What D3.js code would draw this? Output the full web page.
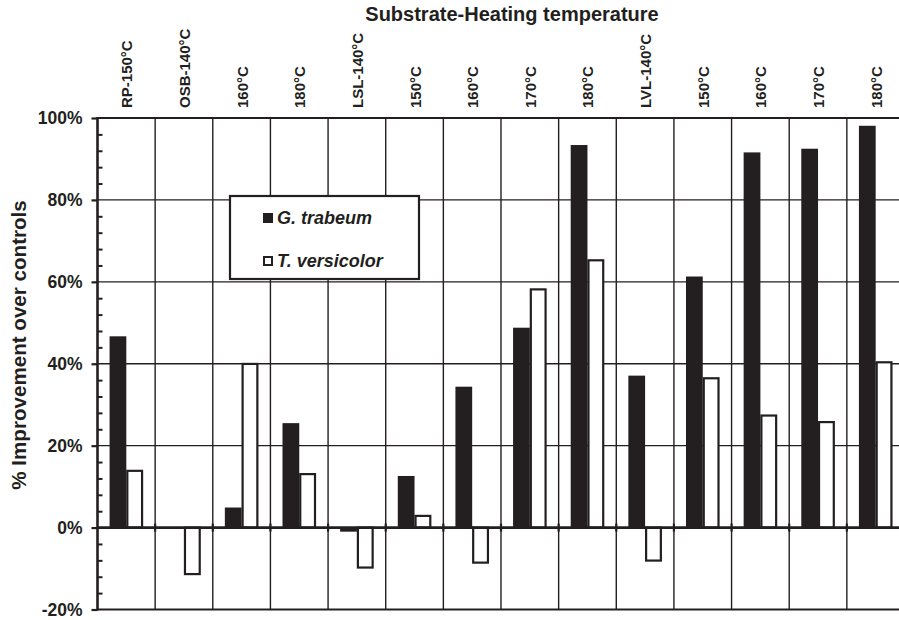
<!DOCTYPE html>
<html>
<head>
<meta charset="utf-8">
<script src="https://cdn.jsdelivr.net/npm/d3@7"></script>
<style>
  body { margin: 0; background: #fff; }
  text { font-family: Arial, "Liberation Sans", sans-serif; font-weight: bold; fill: #231f20; }
</style>
</head>
<body>
<svg id="chart" width="899" height="620"></svg>
<script>
// categories along the top (duplicate temps, so bars are keyed by index)
const categories = ["RP-150°C", "OSB-140°C", "160°C", "180°C", "LSL-140°C", "150°C", "160°C",
                    "170°C", "180°C", "LVL-140°C", "150°C", "160°C", "170°C", "180°C"];
const series = ["G. trabeum", "T. versicolor"];
// % improvement over controls
const gTrabeum    = [46.7, -0.3, 4.9, 25.5, -1.0, 12.6, 34.4, 48.8, 93.4, 37.1, 61.3, 91.6, 92.5, 98.1];
const tVersicolor = [14.1, -11.6, 40.2, 13.3, -10.0, 3.1, -8.8, 58.4, 65.5, -8.3, 36.7, 27.6, 26.0, 40.6];
const yTicks = [-20, 0, 20, 40, 60, 80, 100];
const yMinorTicks = [-16, -12, -8, -4, 4, 8, 12, 16, 24, 28, 32, 36, 44, 48, 52, 56, 64, 68, 72, 76, 84, 88, 92, 96];

const ink = "#231f20";

let svg = d3.select("#chart"),
    margin = {top: 118, left: 97.5},
    width = 807,
    height = 491.5,
    g = svg.append("g").attr("transform", "translate(" + margin.left + "," + margin.top + ")");

let x0 = d3.scaleBand()
    .domain(d3.range(categories.length))
    .range([0, width])
    .padding(0);

let x1 = d3.scaleBand()
    .domain(series)
    .range([0, x0.bandwidth()])
    .paddingInner(0)
    .paddingOuter(0.72);

let y = d3.scaleLinear()
    .domain([-20, 100])
    .range([height, 0]);

// horizontal grid
g.append("g")
    .selectAll("line")
    .data(yTicks.filter(d => d !== 0))
    .enter().append("line")
    .attr("x1", 0)
    .attr("x2", width)
    .attr("y1", d => y(d))
    .attr("y2", d => y(d))
    .attr("stroke", ink)
    .attr("stroke-width", d => (d === -20 || d === 100) ? 2.2 : 1.4);

// vertical grid at category boundaries
g.append("g")
    .selectAll("line")
    .data(d3.range(1, categories.length))
    .enter().append("line")
    .attr("x1", d => x0(d))
    .attr("x2", d => x0(d))
    .attr("y1", y(100))
    .attr("y2", y(-20))
    .attr("stroke", ink)
    .attr("stroke-width", 1.4);

// bars
let rows = categories.map((c, i) => ({i: i, values: [
    {key: series[0], value: gTrabeum[i]},
    {key: series[1], value: tVersicolor[i]}
]}));

let groups = g.append("g")
    .selectAll("g")
    .data(rows)
    .enter().append("g")
    .attr("transform", d => "translate(" + x0(d.i) + ",0)");

// white bars are inset by half the stroke so their outer edge sits on the value
groups.selectAll("rect")
    .data(d => d.values)
    .enter().append("rect")
    .attr("x", d => x1(d.key) + (d.key === series[1] ? 1 : 0))
    .attr("y", d => Math.min(y(d.value), y(0)) + (d.key === series[1] && d.value >= 0 ? 1 : 0))
    .attr("width", d => x1.bandwidth() - (d.key === series[1] ? 2 : 0))
    .attr("height", d => Math.abs(y(d.value) - y(0)) - (d.key === series[1] ? 1 : 0))
    .attr("fill", d => d.key === series[0] ? ink : "#fff")
    .attr("stroke", d => d.key === series[1] ? ink : "none")
    .attr("stroke-width", 2.2);

// zero line with boundary ticks
g.append("line")
    .attr("x1", 0)
    .attr("x2", width)
    .attr("y1", y(0))
    .attr("y2", y(0))
    .attr("stroke", ink)
    .attr("stroke-width", 2.6);

g.append("g")
    .selectAll("line")
    .data(d3.range(1, categories.length))
    .enter().append("line")
    .attr("x1", d => x0(d))
    .attr("x2", d => x0(d))
    .attr("y1", y(0) - 4)
    .attr("y2", y(0) + 4)
    .attr("stroke", ink)
    .attr("stroke-width", 2.2);

// y axis
let yAxis = g.append("g")
    .call(d3.axisLeft(y).tickValues(yTicks).tickSize(6).tickPadding(9).tickFormat(d => d + "%"));
yAxis.select(".domain").remove();
yAxis.selectAll(".tick line").attr("stroke", ink).attr("stroke-width", 2.2);
yAxis.selectAll(".tick text")
    .attr("font-size", 17.5)
    .attr("font-family", "Arial, 'Liberation Sans', sans-serif")
    .attr("font-weight", "bold")
    .attr("fill", ink);

let yMinor = g.append("g")
    .call(d3.axisRight(y).tickValues(yMinorTicks).tickSize(5).tickFormat(""));
yMinor.select(".domain").remove();
yMinor.selectAll(".tick line").attr("stroke", ink).attr("stroke-width", 2);

g.append("line")
    .attr("x1", 0)
    .attr("x2", 0)
    .attr("y1", y(100) - 1)
    .attr("y2", y(-20) + 1)
    .attr("stroke", ink)
    .attr("stroke-width", 2.6);

// category labels along the top
g.append("g")
    .selectAll("text")
    .data(categories)
    .enter().append("text")
    .attr("transform", (d, i) => "translate(" + (x0(i) + x0.bandwidth() / 2 + 6) + "," + (-10) + ") rotate(-90)")
    .attr("text-anchor", "start")
    .attr("font-size", 15)
    .text(d => d);

svg.append("text")
    .attr("x", 512)
    .attr("y", 21)
    .attr("text-anchor", "middle")
    .attr("font-size", 20)
    .text("Substrate-Heating temperature");

svg.append("text")
    .attr("transform", "translate(26,345) rotate(-90)")
    .attr("text-anchor", "middle")
    .attr("font-size", 20.6)
    .text("% Improvement over controls");

// legend
let legend = svg.append("g");
legend.append("rect")
    .attr("x", 230)
    .attr("y", 196)
    .attr("width", 189)
    .attr("height", 83)
    .attr("fill", "#fff")
    .attr("stroke", ink)
    .attr("stroke-width", 2.2);

let items = legend.selectAll("g")
    .data(series)
    .enter().append("g")
    .attr("transform", (d, i) => "translate(263," + (213 + i * 43) + ")");

items.append("rect")
    .attr("x", d => d === series[1] ? 1 : 0)
    .attr("y", d => d === series[1] ? 1 : 0)
    .attr("width", d => d === series[1] ? 8 : 10)
    .attr("height", d => d === series[1] ? 8 : 10)
    .attr("fill", d => d === series[0] ? ink : "#fff")
    .attr("stroke", d => d === series[1] ? ink : "none")
    .attr("stroke-width", 2);

items.append("text")
    .attr("x", 14)
    .attr("y", 11)
    .attr("font-size", 18)
    .attr("font-style", "italic")
    .text(d => d);
</script>
</body>
</html>
